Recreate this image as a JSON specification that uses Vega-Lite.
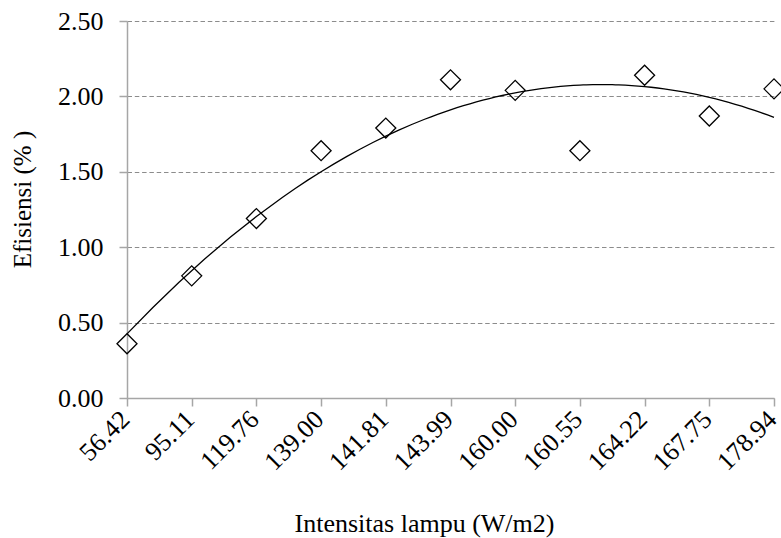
{
  "$schema": "https://vega.github.io/schema/vega-lite/v6.json",
  "width": 647,
  "height": 377,
  "autosize": {"type": "none"},
  "padding": {"left": 127, "top": 21, "right": 7, "bottom": 140},
  "background": "white",
  "config": {"view": {"stroke": null}, "font": "Liberation Serif"},
  "data": {
    "values": [
      {"idx": 1, "intensitas": "56.42", "efisiensi": 0.36},
      {"idx": 2, "intensitas": "95.11", "efisiensi": 0.81},
      {"idx": 3, "intensitas": "119.76", "efisiensi": 1.19},
      {"idx": 4, "intensitas": "139.00", "efisiensi": 1.64},
      {"idx": 5, "intensitas": "141.81", "efisiensi": 1.79},
      {"idx": 6, "intensitas": "143.99", "efisiensi": 2.11},
      {"idx": 7, "intensitas": "160.00", "efisiensi": 2.04},
      {"idx": 8, "intensitas": "160.55", "efisiensi": 1.64},
      {"idx": 9, "intensitas": "164.22", "efisiensi": 2.14},
      {"idx": 10, "intensitas": "167.75", "efisiensi": 1.87},
      {"idx": 11, "intensitas": "178.94", "efisiensi": 2.05}
    ]
  },
  "layer": [
    {
      "mark": {"type": "point", "shape": "diamond", "size": 400, "filled": false, "stroke": "black", "strokeWidth": 1.3, "opacity": 1},
      "encoding": {
        "x": {
          "field": "intensitas", "type": "ordinal", "sort": null,
          "scale": {"type": "point", "padding": 0},
          "axis": {
            "title": "Intensitas lampu (W/m2)",
            "labelAngle": -45, "labelAlign": "right", "labelBaseline": "middle",
            "labelFontSize": 26, "labelColor": "black", "labelOffset": -2,
            "tickSize": 8, "labelPadding": 9,
            "domainColor": "#a6a6a6", "tickColor": "#a6a6a6", "domainWidth": 1.5, "tickWidth": 1.5,
            "grid": false,
            "titleFontSize": 26, "titleFontWeight": "normal", "titleColor": "black",
            "titleX": 297, "titleY": 133, "titleBaseline": "alphabetic", "titleAlign": "center"
          }
        },
        "y": {
          "field": "efisiensi", "type": "quantitative",
          "scale": {"domain": [0, 2.5], "nice": false},
          "axis": {
            "title": "Efisiensi (% )",
            "values": [0, 0.5, 1, 1.5, 2, 2.5], "format": ".2f",
            "labelFontSize": 26, "labelColor": "black",
            "tickSize": 8, "labelPadding": 16,
            "domainColor": "#a6a6a6", "tickColor": "#a6a6a6", "domainWidth": 1.5, "tickWidth": 1.5,
            "grid": true, "gridDash": [4.5, 2.8], "gridColor": "#8c8c8c", "gridWidth": 1,
            "titleFontSize": 25, "titleFontWeight": "normal", "titleColor": "black",
            "titleX": -92, "titleY": 178, "titleBaseline": "bottom", "titleAlign": "center", "titleAngle": -90
          }
        }
      }
    },
    {
      "transform": [{"regression": "efisiensi", "on": "idx", "method": "poly", "order": 2}],
      "mark": {"type": "line", "color": "black", "strokeWidth": 1.3},
      "encoding": {
        "x": {"field": "idx", "type": "quantitative", "scale": {"domain": [1, 11], "nice": false, "zero": false}, "axis": null},
        "y": {"field": "efisiensi", "type": "quantitative"}
      }
    }
  ],
  "resolve": {"scale": {"x": "independent"}}
}
